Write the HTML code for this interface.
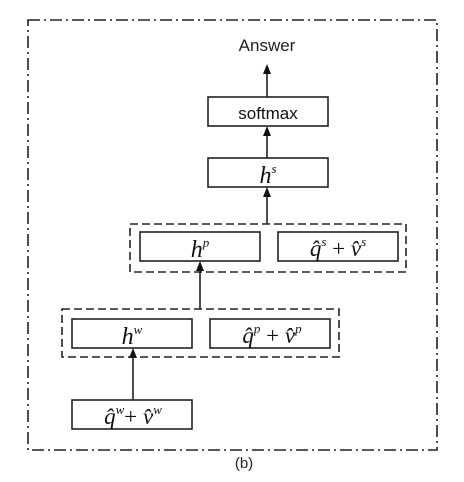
<!DOCTYPE html>
<html><head><meta charset="utf-8"><style>
body{margin:0;background:#fff}
svg text{font-family:"Liberation Serif",serif;font-style:italic}
</style></head><body>
<svg width="464" height="477" viewBox="0 0 464 477" xmlns="http://www.w3.org/2000/svg">
<rect x="28" y="20" width="409" height="430" fill="none" stroke="#222" stroke-width="1.6" stroke-dasharray="12,4,2,4"/>
<g stroke="#222" stroke-width="1.6" fill="none">
<rect x="130" y="224" width="276" height="48" stroke-dasharray="8,4"/>
<rect x="62" y="309" width="277" height="48" stroke-dasharray="8,4"/>
<rect x="208" y="97" width="120" height="29"/>
<rect x="208" y="158" width="120" height="29"/>
<rect x="140" y="232" width="120" height="29"/>
<rect x="278" y="232" width="120" height="29"/>
<rect x="72" y="319" width="120" height="29"/>
<rect x="210" y="319" width="120" height="29"/>
<rect x="72" y="400" width="120" height="29"/>
<line x1="267" y1="97" x2="267" y2="72"/>
<line x1="267" y1="158" x2="267" y2="132"/>
<line x1="267" y1="224" x2="267" y2="193"/>
<line x1="200" y1="309" x2="200" y2="267"/>
<line x1="133" y1="400" x2="133" y2="354"/>
</g>
<g fill="#111">
<path d="M263,74 L267,64 L271,74 Z"/>
<path d="M263,136 L267,126 L271,136 Z"/>
<path d="M263,197 L267,187 L271,197 Z"/>
<path d="M196,271 L200,261 L204,271 Z"/>
<path d="M129,358 L133,348 L137,358 Z"/>
</g>
<text x="267" y="51" text-anchor="middle" font-size="17" style="font-family:'Liberation Sans',sans-serif;font-style:normal" fill="#222">Answer</text>
<text x="268" y="119" text-anchor="middle" font-size="17" style="font-family:'Liberation Sans',sans-serif;font-style:normal" fill="#111">softmax</text>
<text x="268" y="183" text-anchor="middle" font-size="24" fill="#111">h<tspan font-size="13" dy="-10">s</tspan></text>
<text x="200" y="257" text-anchor="middle" font-size="24" fill="#111">h<tspan font-size="13" dy="-10">p</tspan></text>
<text x="338" y="256" text-anchor="middle" font-size="23" fill="#111">q̂<tspan font-size="13" dy="-10">s</tspan><tspan dy="10" style="font-style:normal"> + </tspan>v̂<tspan font-size="13" dy="-10">s</tspan></text>
<text x="132" y="344" text-anchor="middle" font-size="24" fill="#111">h<tspan font-size="13" dy="-10">w</tspan></text>
<text x="272" y="343" text-anchor="middle" font-size="23" fill="#111">q̂<tspan font-size="13" dy="-10">p</tspan><tspan dy="10" style="font-style:normal"> + </tspan>v̂<tspan font-size="13" dy="-10">p</tspan></text>
<text x="133" y="424" text-anchor="middle" font-size="23" fill="#111">q̂<tspan font-size="13" dy="-10">w</tspan><tspan dy="10" style="font-style:normal">+ </tspan>v̂<tspan font-size="13" dy="-10">w</tspan></text>
<text x="244" y="468" text-anchor="middle" font-size="15" style="font-family:'Liberation Sans',sans-serif;font-style:normal" fill="#222">(b)</text>
</svg>
</body></html>
